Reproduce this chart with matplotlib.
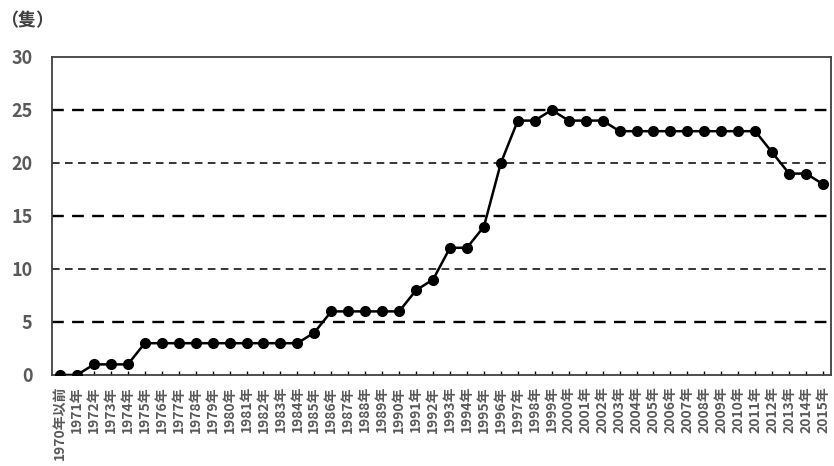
import matplotlib
matplotlib.use("Agg")
import matplotlib.pyplot as plt

plt.rcParams['font.family'] = ['Noto Sans CJK JP', 'DejaVu Sans']

categories = ["1970年以前"] + [f"{y}年" for y in range(1971, 2016)]
values = [0, 0, 1, 1, 1, 3, 3, 3, 3, 3, 3, 3, 3, 3, 3, 4, 6, 6, 6, 6, 6,
          8, 9, 12, 12, 14, 20, 24, 24, 25, 24, 24, 24, 23, 23, 23, 23, 23,
          23, 23, 23, 23, 21, 19, 19, 18]
yticks = [0, 5, 10, 15, 20, 25, 30]
unit_label = "（隻）"

fig = plt.figure(figsize=(8.34, 4.66), dpi=100)
ax = fig.add_axes([0.0624, 0.1953, 0.934, 0.6824])

x = list(range(len(categories)))
for yv in [5, 10, 15, 20, 25]:
    lw = 1.7 if yv in (5, 15, 25) else 1.1
    ax.axhline(yv, color='black', linestyle=(0, (5, 3.5)), linewidth=lw, zorder=1)

ax.plot(x, values, color='black', linewidth=1.8, marker='o', markersize=7, zorder=3)

ax.set_xlim(-0.47, len(categories) - 1 + 0.47)
ax.set_ylim(0, 30)
ax.set_yticks(yticks)
ax.set_yticklabels([str(v) for v in yticks], fontsize=13, fontweight='bold', color='#595959')
ax.tick_params(axis='y', length=0, pad=14)
ax.set_xticks(x)
ax.set_xticklabels(categories, rotation=90, fontsize=10, fontweight='bold', color='#595959')
ax.tick_params(axis='x', direction='in', length=3, width=1, pad=8)
for s in ax.spines.values():
    s.set_color('#404040')
    s.set_linewidth(1.3)

fig.text(0.0, 0.955, unit_label, fontsize=13, fontweight='bold', color='#404040', va='center', ha='left')

fig.savefig("out.png", dpi=100)
